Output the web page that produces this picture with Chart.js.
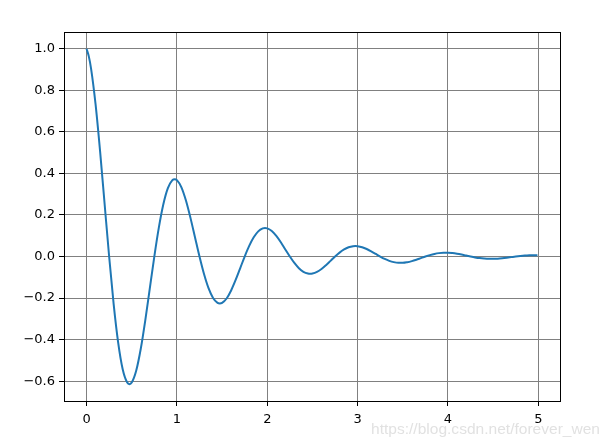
<!DOCTYPE html>
<html>
<head>
<meta charset="utf-8">
<script src="https://cdn.jsdelivr.net/npm/chart.js@4/dist/chart.umd.min.js"></script>
<style>
html,body{margin:0;padding:0;background:#fff;}
#wrap{position:relative;width:609px;height:444px;}
canvas{display:block;}
</style>
</head>
<body>
<div id="wrap"><canvas id="c" width="609" height="444"></canvas></div>
<script>
const tValues = [
0.00,0.025,0.05,0.10,0.15,0.20,0.25,0.30,0.35,0.40,0.45,0.475,0.50,0.55,0.60,0.65,0.70,0.75,0.80,0.85,0.90,0.95,0.975,
1.00,1.05,1.10,1.15,1.20,1.25,1.30,1.35,1.40,1.45,1.475,1.50,1.55,1.60,1.65,1.70,1.75,1.80,1.85,1.90,1.95,1.975,
2.00,2.05,2.10,2.15,2.20,2.25,2.30,2.35,2.40,2.45,2.475,2.50,2.55,2.60,2.65,2.70,2.75,2.80,2.85,2.90,2.95,2.975,
3.00,3.05,3.10,3.15,3.20,3.25,3.30,3.35,3.40,3.45,3.50,3.55,3.60,3.65,3.70,3.75,3.80,3.85,3.90,3.95,
4.00,4.05,4.10,4.15,4.20,4.25,4.30,4.35,4.40,4.45,4.50,4.55,4.60,4.65,4.70,4.75,4.80,4.85,4.90,4.95,
4.99
];
const yValues = [
1.0000,0.9633,0.9047,0.7320,0.5059,0.2530,0.0000,-0.2289,-0.4142,-0.5423,-0.6064,-0.6142,-0.6065,-0.5487,-0.4440,-0.3069,-0.1535,0.0000,0.1389,0.2512,0.3289,0.3678,0.3725,
0.3679,0.3328,0.2693,0.1861,0.0931,0.0000,-0.0842,-0.1524,-0.1995,-0.2231,-0.2260,-0.2231,-0.2019,-0.1633,-0.1129,-0.0565,0.0000,0.0511,0.0924,0.1210,0.1353,0.1371,
0.1353,0.1224,0.0991,0.0685,0.0342,0.0000,-0.0310,-0.0561,-0.0734,-0.0821,-0.0831,-0.0821,-0.0743,-0.0601,-0.0415,-0.0208,0.0000,0.0188,0.0340,0.0445,0.0498,0.0504,
0.0498,0.0450,0.0364,0.0252,0.0126,0.0000,-0.0114,-0.0206,-0.0270,-0.0302,-0.0302,-0.0273,-0.0221,-0.0153,-0.0076,0.0000,0.0069,0.0125,0.0164,0.0183,
0.0183,0.0166,0.0134,0.0093,0.0046,0.0000,-0.0042,-0.0076,-0.0099,-0.0111,-0.0111,-0.0101,-0.0081,-0.0056,-0.0028,0.0000,0.0025,0.0046,0.0060,0.0067,
0.0067
];
const xTicks = [0, 1, 2, 3, 4, 5];
const yTicks = [-0.6, -0.4, -0.2, 0.0, 0.2, 0.4, 0.6, 0.8, 1.0];
const watermark = "https://blog.csdn.net/forever_wen";

const points = tValues.map((t, i) => ({x: t, y: yValues[i]}));

const frame = {
  id: 'frame',
  afterDraw(chart) {
    const {ctx, chartArea: a} = chart;
    ctx.save();
    ctx.strokeStyle = '#000';
    ctx.lineWidth = 1;
    ctx.strokeRect(Math.round(a.left) + 0.5, Math.round(a.top) + 0.5, Math.round(a.right - a.left), Math.round(a.bottom - a.top));
    ctx.font = '14px "Liberation Sans", Arial, sans-serif';
    ctx.fillStyle = 'rgba(215,215,215,0.75)';
    ctx.textAlign = 'left';
    ctx.textBaseline = 'alphabetic';
    const w = ctx.measureText(watermark).width;
    ctx.save();
    ctx.translate(371, 434);
    ctx.scale(229 / w, 1.1);
    ctx.fillText(watermark, 0, 0);
    ctx.restore();
    ctx.restore();
  }
};

const font = {family: '"DejaVu Sans", sans-serif', size: 13};

new Chart(document.getElementById('c'), {
  type: 'line',
  data: {
    datasets: [{
      data: points,
      borderColor: '#1f77b4',
      borderWidth: 2,
      pointRadius: 0,
      cubicInterpolationMode: 'monotone',
      fill: false
    }]
  },
  options: {
    responsive: false,
    animation: false,
    devicePixelRatio: 1,
    layout: {padding: {top: 32, right: 49, left: 0, bottom: 0}},
    plugins: {legend: {display: false}, tooltip: {enabled: false}},
    scales: {
      x: {
        type: 'linear',
        min: -0.2495,
        max: 5.2395,
        afterBuildTicks(s) { s.ticks = xTicks.map(v => ({value: v})); },
        afterFit(s) { s.height = 43; },
        grid: {color: '#808080', lineWidth: 1, tickLength: 5, tickColor: '#000', drawTicks: true},
        border: {display: true, color: '#000', width: 1},
        ticks: {color: '#000', font, padding: 6, maxRotation: 0, callback: v => String(v)}
      },
      y: {
        type: 'linear',
        min: -0.6953,
        max: 1.0807,
        afterBuildTicks(s) { s.ticks = yTicks.map(v => ({value: v})); },
        afterFit(s) { s.width = 64; },
        grid: {color: '#808080', lineWidth: 1, tickLength: 5, tickColor: '#000', drawTicks: true},
        border: {display: true, color: '#000', width: 1},
        ticks: {color: '#000', font, padding: 4, callback: v => v.toFixed(1).replace('-', '\u2212')}
      }
    }
  },
  plugins: [frame]
});
</script>
</body>
</html>
